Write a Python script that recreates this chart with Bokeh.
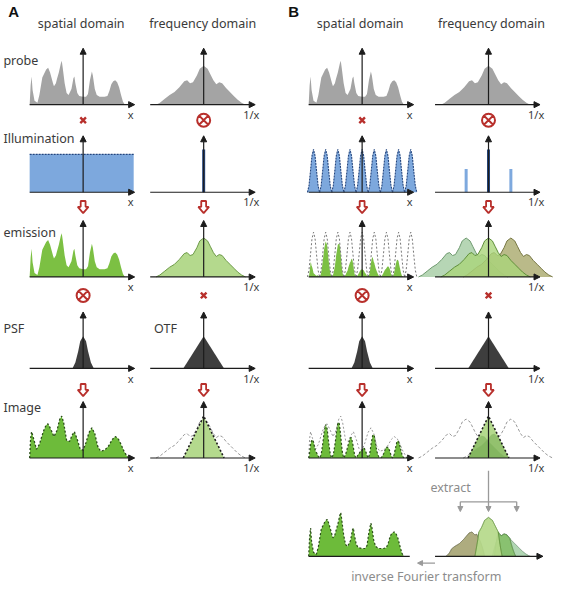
import numpy as np
from bokeh.plotting import figure
from bokeh.models import Range1d, Arrow, NormalHead, ColumnDataSource
from bokeh.embed import file_html
from bokeh.resources import INLINE
from bokeh.core.properties import value

# ---------------- data (pixel offsets from each panel's vertical axis / heights above baseline) -------------
probe_dx = [-55, -54, -53, -52, -50, -47, -45, -42, -38, -36, -34, -31, -30, -28, -27, -25, -23, -22, -21, -19,
            -17, -15, -12, -10, -9, -8, -6, -4, 0, 3, 5, 7, 9, 10, 12, 14, 17, 22, 25, 27, 29, 31, 33, 35, 37,
            39, 41, 43]
probe_h = [0, 20, 29, 15, 4, 2, 10, 28, 36, 38, 33, 22, 19, 22, 26, 33, 42, 45, 38, 22,
           12, 10, 16, 27, 29, 22, 12, 9, 8, 8, 11, 25, 34, 30, 16, 10, 8, 8, 9, 14, 21, 24, 25, 23, 18,
           10, 3, 0]

freq_dx = [-49, -45, -40, -35, -30, -25, -20, -17, -14, -11, -7, -4, 0, 4, 7, 10, 13, 16, 19, 23, 27, 31, 35, 39, 43]
freq_h = [0, 2, 6, 10, 13, 18, 24, 25, 22, 23, 30, 37, 40, 37, 31, 25, 21, 23, 22, 17, 13, 9, 5, 2, 0]

psf_dx = [-11, -8, -5, -3, 0, 3, 5, 8, 11]
psf_h = [0, 6, 18, 28, 33, 28, 18, 6, 0]

otf_dx = [-21, 0, 21]
otf_h = [0, 33, 0]

image_dx = [-55, -54, -53, -51, -48, -45, -41, -38, -36, -33, -30, -27, -24, -22, -20, -17, -14, -11, -9, -6,
            -3, 0, 3, 6, 9, 12, 15, 18, 22, 26, 30, 33, 36, 39, 42, 45, 47]
image_h = [0, 20, 27, 20, 9, 14, 27, 34, 35, 29, 22, 28, 40, 43, 36, 18, 17, 24, 27, 19,
           9, 8, 16, 26, 31, 25, 12, 7, 8, 12, 19, 22, 20, 14, 7, 2, 0]

image_otf_dx = [-21, 0, 21]
image_otf_h = [0, 43, 0]

illum_flat_h = 39
illum_centers = [-50, -37.5, -25, -12.5, 0, 12.5, 25, 37.5, 50]
illum_period_dx = [-6.25, -4.7, -3.1, -1.6, 0, 1.6, 3.1, 4.7, 6.25]
illum_period_frac = [0, 0.15, 0.5, 0.85, 1, 0.85, 0.5, 0.15, 0]
illum_peak_h = 44
spike_dx = [-23, 0, 23]
spike_h = [24, 44, 24]
shift = 23

win_left_dx, win_left_w = [-44, -38, -12, -4], [0, 1, 1, 0]
win_center_dx, win_center_w = [-14, -10, 10, 14], [0, 1, 1, 0]
win_rpale_dx, win_rpale_w = [4, 12, 40, 46], [0, 1, 1, 0]
win_rmid_dx, win_rmid_w = [6, 10, 22, 28], [0, 1, 1, 0]

# ---------------- layout --------------------------------------------------
COL = {"A_sp": 85, "A_fr": 209, "B_sp": 372, "B_fr": 502}
ROW = {"probe": 107, "illum": 197, "emis": 284, "psf": 378, "image": 470, "recon": 571}

RED = "#b8302c"
AX = "#1c1c1c"
GREY_FILL = "#a4a4a4"
GREEN = "#7cc043"
LGREEN = "#b4d98d"
DGREEN = "#4f7f2a"
BLUE = "#6f9fd9"
DBLUE = "#24467f"
FONT = value("Noto Sans")

W, H = 574, 601
p = figure(width=558, height=585, x_range=Range1d(0, W), y_range=Range1d(H, 0),
           output_backend="svg", toolbar_location=None, min_border=0)
p.axis.visible = False
p.grid.visible = False
p.outline_line_color = None
p.background_fill_color = "white"

G = np.linspace(-80, 80, 1281)


def on_grid(dx, h, off=0.0):
    return np.interp(G - off, dx, h, left=0, right=0)


def fill(x0, base, xs, hs, color, alpha=1.0, line_color=None, dash="solid", lw=1.0):
    xs = list(np.asarray(xs, float) + x0)
    ys = list(base - np.asarray(hs, float))
    p.patch([xs[0]] + xs + [xs[-1]], [base] + ys + [base], fill_color=color, fill_alpha=alpha,
            line_color=None)
    if line_color:
        p.line(xs, ys, line_color=line_color, line_dash=dash, line_width=lw)


def outline(x0, base, xs, hs, color, dash="solid", lw=1.0):
    xs = np.asarray(xs, float) + x0
    ys = base - np.asarray(hs, float)
    p.line(list(xs), list(ys), line_color=color, line_dash=dash, line_width=lw)


def trimmed(arr):
    nz = np.nonzero(arr > 0.01)[0]
    if len(nz) == 0:
        return G[:2], arr[:2]
    a, b = max(nz[0] - 1, 0), min(nz[-1] + 2, len(G))
    return G[a:b], arr[a:b]


illum_grid = sum(on_grid(illum_period_dx, illum_period_frac, c) for c in illum_centers)
probe_grid = on_grid(probe_dx, probe_h)
image_grid = on_grid(image_dx, image_h)
freq_grid = on_grid(freq_dx, freq_h)
tri_grid = on_grid(image_otf_dx, image_otf_h)

# ---------------- row 1: probe ------------------------------------------------
for c in ("A_sp", "B_sp"):
    fill(COL[c], ROW["probe"], probe_dx, probe_h, GREY_FILL)
for c in ("A_fr", "B_fr"):
    fill(COL[c], ROW["probe"], freq_dx, freq_h, GREY_FILL)

# ---------------- row 2: illumination ----------------------------------------
b = ROW["illum"]
fill(COL["A_sp"], b, [-55, -55, 52, 52], [0, illum_flat_h, illum_flat_h, 0], BLUE, alpha=0.9)
p.line([COL["A_sp"] - 55, COL["A_sp"] + 52], [b - illum_flat_h] * 2, line_color=DBLUE, line_dash="2 1",
       line_width=1.2)
for c in illum_centers:
    xs = np.asarray(illum_period_dx) + c
    hs = np.asarray(illum_period_frac) * illum_peak_h
    fill(COL["B_sp"], b, xs, hs, BLUE, alpha=0.9, line_color=DBLUE, dash="2 1", lw=1.1)
p.segment(COL["A_fr"], b, COL["A_fr"], b - spike_h[1], line_color=DBLUE, line_width=3)
for d, h in zip(spike_dx, spike_h):
    p.segment(COL["B_fr"] + d, b, COL["B_fr"] + d, b - h, line_color=DBLUE if d == 0 else "#7ea9de",
              line_width=3)

# ---------------- row 3: emission ---------------------------------------------
b = ROW["emis"]
fill(COL["A_sp"], b, probe_dx, probe_h, GREEN)
fill(COL["A_fr"], b, freq_dx, freq_h, LGREEN, line_color="#6d9a48", lw=1.0)
em = probe_grid * illum_grid
xs, hs = trimmed(em)
fill(COL["B_sp"], b, xs, hs, GREEN)
for c in illum_centers:
    xs = np.asarray(illum_period_dx) + c
    outline(COL["B_sp"], b, xs, np.asarray(illum_period_frac) * (illum_peak_h + 2), "#777777", dash="2 2", lw=1)
for off, col, lc in ((-shift, "#a4cca3", "#6f9a70"), (shift, "#a9a96c", "#777744"), (0, "#aad47a", "#5f8f3a")):
    xs = np.asarray(freq_dx) + off
    fill(COL["B_fr"], b, xs, freq_h, col, alpha=0.8, line_color=lc, lw=1.0)

# ---------------- row 4: PSF / OTF --------------------------------------------
b = ROW["psf"]
for c in ("A_sp", "B_sp"):
    fill(COL[c], b, psf_dx, psf_h, "#3e3e3e")
for c in ("A_fr", "B_fr"):
    fill(COL[c], b, otf_dx, otf_h, "#3e3e3e")

# ---------------- row 5: image ------------------------------------------------
b = ROW["image"]
fill(COL["A_sp"], b, image_dx, image_h, "#6dbb3a", line_color="#2b4d1a", dash="2 2", lw=1.3)
outline(COL["A_fr"], b, freq_dx, freq_h, "#9a9a9a", dash="3 2", lw=1)
fill(COL["A_fr"], b, image_otf_dx, image_otf_h, LGREEN, line_color="#1e1e1e", dash="2 2", lw=1.6)

im_b = image_grid * illum_grid
xs, hs = trimmed(im_b)
outline(COL["B_sp"], b, image_dx, image_h, "#9a9a9a", dash="2 2", lw=1)
fill(COL["B_sp"], b, xs, hs, "#6dbb3a", line_color="#2b4d1a", dash="2 2", lw=1.2)
for off in (-shift, shift):
    outline(COL["B_fr"], b, np.asarray(freq_dx) + off, freq_h, "#9a9a9a", dash="3 2", lw=1)
fill(COL["B_fr"], b, image_otf_dx, image_otf_h, LGREEN)
for off in (-shift, shift):
    part = np.minimum(on_grid(freq_dx, freq_h, off), tri_grid)
    xs, hs = trimmed(part)
    fill(COL["B_fr"], b, xs, hs, "#79ad55", alpha=0.55)
outline(COL["B_fr"], b, image_otf_dx, image_otf_h, "#1e1e1e", dash="2 2", lw=1.6)

# ---------------- row 6: reconstruction ----------------------------------------
b = ROW["recon"]
fill(COL["B_sp"], b, probe_dx, probe_h, "#6dbb3a", line_color="#2b4d1a", dash="2 2", lw=1.2)
for wdx, ww, col, lc in ((win_left_dx, win_left_w, "#a7a574", "#6b6b4a"),
                         (win_rpale_dx, win_rpale_w, "#a9d2ad", "#7a9c7e"),
                         (win_rmid_dx, win_rmid_w, "#86bf6a", "#5a8a48"),
                         (win_center_dx, win_center_w, "#b5d98a", "#5f8f3a")):
    part = freq_grid * on_grid(wdx, ww)
    xs, hs = trimmed(part)
    fill(COL["B_fr"], b, xs, hs, col, alpha=0.92, line_color=lc, lw=1)

# ---------------- axes -------------------------------------------------------------
hx0, hx1, vh = [], [], []
ax_rows = ["probe", "illum", "emis", "psf", "image"]
axs = dict(x_start=[], y_start=[], x_end=[], y_end=[])
for r in ax_rows:
    for c in COL:
        x0, yb = COL[c], ROW[r]
        axs["x_start"] += [x0 - 55, x0]
        axs["y_start"] += [yb, yb]
        axs["x_end"] += [x0 + 53, x0]
        axs["y_end"] += [yb, yb - 58]
axs["x_start"].append(COL["B_fr"] - 55)
axs["y_start"].append(ROW["recon"])
axs["x_end"].append(COL["B_fr"] + 56)
axs["y_end"].append(ROW["recon"])
p.add_layout(Arrow(end=NormalHead(size=6, fill_color=AX, line_color=AX), source=ColumnDataSource(axs),
                   x_start="x_start", y_start="y_start", x_end="x_end", y_end="y_end",
                   line_color=AX, line_width=1.2))
p.segment(COL["B_sp"] - 55, ROW["recon"], COL["B_sp"] + 49, ROW["recon"], line_color=AX, line_width=1.2)

# grey extract / inverse arrows
GR = "#9a9a9a"
ex = dict(x_start=[COL["B_fr"], COL["B_fr"] - 29, COL["B_fr"] + 29, 447],
          y_start=[483, 515, 515, 578],
          x_end=[COL["B_fr"], COL["B_fr"] - 29, COL["B_fr"] + 29, 429],
          y_end=[525, 525, 525, 578])
p.add_layout(Arrow(end=NormalHead(size=5, fill_color=GR, line_color=GR), source=ColumnDataSource(ex),
                   x_start="x_start", y_start="y_start", x_end="x_end", y_end="y_end",
                   line_color=GR, line_width=1.3))
p.segment(COL["B_fr"] - 29, 515, COL["B_fr"] + 29, 515, line_color=GR, line_width=1.3)

# ---------------- red operators -------------------------------------------------------
times_x = [COL["A_sp"], COL["B_sp"], COL["A_fr"], COL["B_fr"]]
times_y = [123, 123, 303, 303]
otimes_x = [COL["A_fr"], COL["B_fr"], COL["A_sp"], COL["B_sp"]]
otimes_y = [123, 123, 303, 303]
p.scatter(times_x, times_y, marker="x", size=8, line_color=RED, line_width=2.4)
p.scatter(otimes_x, otimes_y, marker="circle_x", size=13, line_color=RED, fill_color="white", line_width=2)

arrow_tpl_x = [-2.5, 2.5, 2.5, 5.5, 0, -5.5, -2.5]
arrow_tpl_y = [-6, -6, 0, 0, 6.5, 0, 0]
darrow_y = [212, 400]
axl, ayl = [], []
for yy in darrow_y:
    for c in COL:
        axl.append([COL[c] + t for t in arrow_tpl_x])
        ayl.append([yy + t for t in arrow_tpl_y])
p.patches(axl, ayl, fill_color="white", line_color=RED, line_width=1.8)

# ---------------- texts -------------------------------------------------------------
TXT = "#3a3a3a"
titles = ["spatial domain", "frequency domain", "spatial domain", "frequency domain"]
title_x = [83, 208, 370, 505]
p.text(title_x, [24] * 4, text=titles, text_font=FONT, text_font_size="12.5px", text_color=TXT,
       text_align="center", text_baseline="middle")
row_labels = ["probe", "Illumination", "emission", "PSF", "OTF", "Image"]
row_lx = [3, 3, 3, 3, 158, 3]
row_ly = [62, 142, 238, 337, 337, 418]
p.text(row_lx, row_ly, text=row_labels, text_font=FONT, text_font_size="12.5px", text_color=TXT,
       text_align="left", text_baseline="middle")
lx, ly, lt = [], [], []
for r in ax_rows:
    for c in COL:
        lx.append(COL[c] + 49)
        ly.append(ROW[r] + 10)
        lt.append("x" if c.endswith("sp") else "1/x")
p.text(lx, ly, text=lt, text_font=FONT, text_font_size="11px", text_color=TXT,
       text_align="center", text_baseline="middle")
p.text([8, 296], [11, 11], text=["A", "B"], text_font=value("Liberation Sans"), text_font_size="15px",
       text_font_style="bold", text_color="#111111", text_align="left", text_baseline="middle")
p.text([463, 438], [500, 592], text=["extract", "inverse Fourier transform"], text_font=FONT,
       text_font_size="12.5px", text_color="#8c8c8c", text_align="center", text_baseline="middle")

open("out.html", "w").write(file_html(p, INLINE))
